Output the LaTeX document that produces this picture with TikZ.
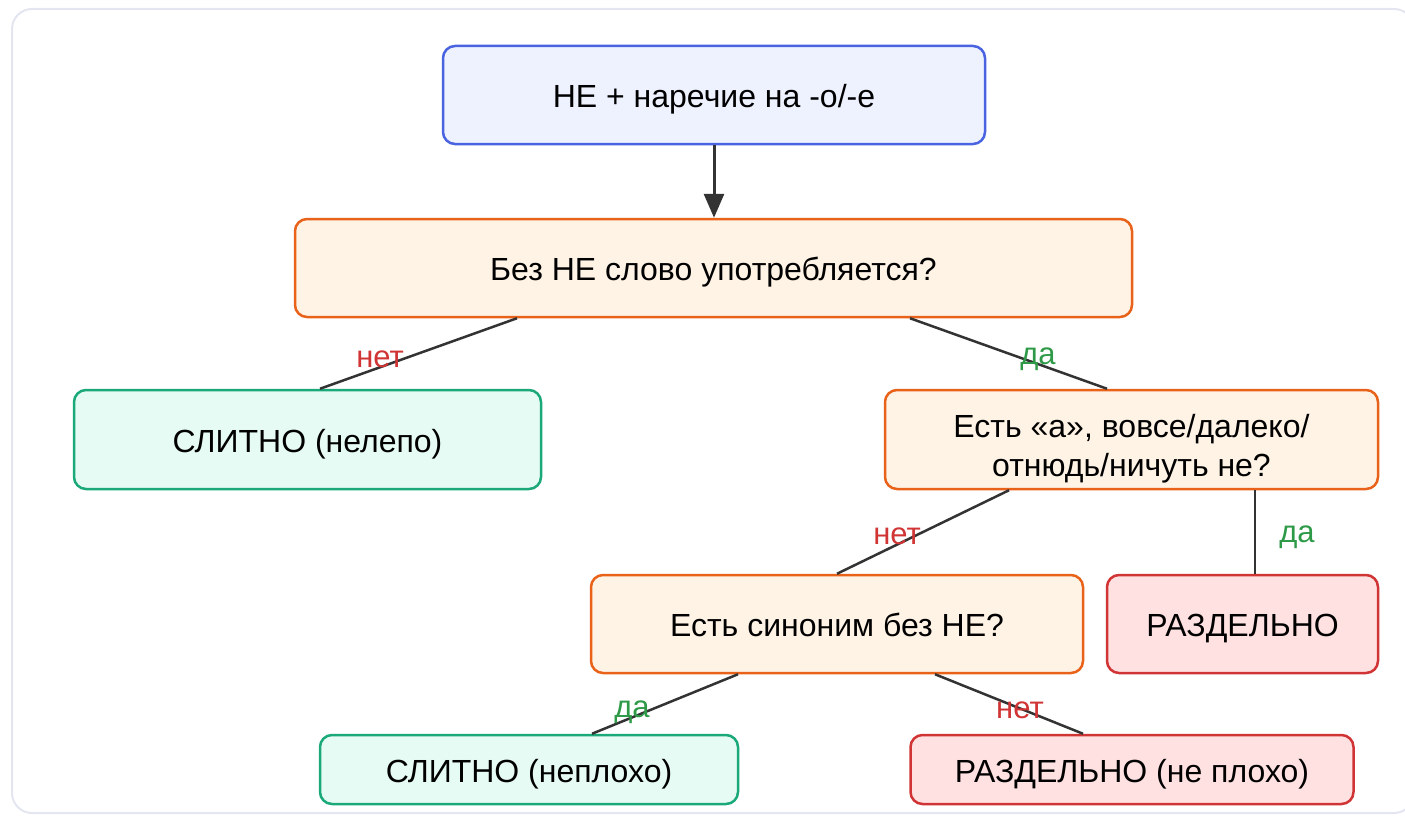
\documentclass[tikz,border=0pt]{standalone}
\usepackage{fontspec}
\setmainfont{Liberation Sans}
\usetikzlibrary{arrows.meta, positioning}

\definecolor{framecol}{HTML}{E3E6F0}
\definecolor{startfill}{HTML}{EEF2FF}
\definecolor{startline}{HTML}{4A63E0}
\definecolor{askfill}{HTML}{FFF3E6}
\definecolor{askline}{HTML}{E8621A}
\definecolor{jointfill}{HTML}{E6FBF3}
\definecolor{jointline}{HTML}{1BA97A}
\definecolor{apartfill}{HTML}{FFE1E1}
\definecolor{apartline}{HTML}{D03434}
\definecolor{linecol}{HTML}{333333}
\definecolor{nocol}{HTML}{D03434}
\definecolor{yescol}{HTML}{2E9A48}

\begin{document}
\begin{tikzpicture}[x=1pt, y=-1pt]
\tikzstyle{box} = [rectangle, rounded corners=12pt, draw, line width=2.5pt, align=center, inner sep=0pt, font=\fontsize{32}{39}\selectfont, text height=30.4pt, text depth=5pt]
\tikzstyle{startbox} = [box, draw=startline, fill=startfill]
\tikzstyle{askbox} = [box, draw=askline, fill=askfill]
\tikzstyle{jointbox} = [box, draw=jointline, fill=jointfill]
\tikzstyle{apartbox} = [box, draw=apartline, fill=apartfill]
\tikzstyle{line} = [line width=2.5pt, draw=linecol]
\tikzstyle{arrow} = [line, line width=3pt, -{Triangle[length=24pt, width=20pt]}]
\tikzstyle{nolbl} = [text=nocol, inner sep=0pt, font=\fontsize{31}{36}\selectfont]
\tikzstyle{yeslbl} = [text=yescol, inner sep=0pt, font=\fontsize{31}{36}\selectfont]

\useasboundingbox (0,0) rectangle (1405,816);
\clip (0,0) rectangle (1405,816);
\draw[framecol, line width=2pt, rounded corners=20pt] (12,9) rectangle (1414,813);

\node[startbox, minimum width=542pt, minimum height=98pt] (start) at (714,95) {НЕ + наречие на -о/-е};
\node[askbox, minimum width=837pt, minimum height=98pt] (usage) at (713.5,268) {Без НЕ слово употребляется?};
\node[jointbox, minimum width=467pt, minimum height=99pt] (slitnoA) at (307.5,439.5) {СЛИТНО (нелепо)};
\node[askbox, minimum width=493pt, minimum height=99pt, text height=78pt] (also) at (1131.5,439.5) {Есть «а», вовсе/далеко/\\отнюдь/ничуть не?};
\node[askbox, minimum width=492pt, minimum height=98pt] (synonym) at (837,624) {Есть синоним без НЕ?};
\node[apartbox, minimum width=271pt, minimum height=98pt] (razdA) at (1242.5,624) {РАЗДЕЛЬНО};
\node[jointbox, minimum width=418pt, minimum height=69pt] (slitnoB) at (529,769.5) {СЛИТНО (неплохо)};
\node[apartbox, minimum width=443pt, minimum height=69pt] (razdB) at (1132,769.5) {РАЗДЕЛЬНО (не плохо)};

\draw[arrow] (start.south) -- (start.south |- usage.north);
\draw[line] ([xshift=-196.5pt]usage.south) -- node[nolbl, pos=0.695, yshift=8pt] (noA) {нет} ([xshift=12.5pt]slitnoA.north);
\draw[line] ([xshift=196.5pt]usage.south) -- node[yeslbl, pos=0.65, yshift=4.5pt] (yesA) {да} ([xshift=-24.5pt]also.north);
\draw[line] ([xshift=-122.5pt]also.south) -- node[nolbl, pos=0.651, yshift=8pt] (noB) {нет} (synonym.north);
\draw[line] ([xshift=123.5pt]also.south) -- node[yeslbl, midway, right=23pt, yshift=-5pt] (yesB) {да} ([xshift=12.5pt]razdA.north);
\draw[line] ([xshift=-99pt]synonym.south) -- node[yeslbl, pos=0.726, yshift=5pt] (yesC) {да} ([xshift=63pt]slitnoB.north);
\draw[line] ([xshift=98pt]synonym.south) -- node[nolbl, pos=0.574, yshift=-1.5pt] (noC) {нет} ([xshift=-49pt]razdB.north);
\end{tikzpicture}
\end{document}
